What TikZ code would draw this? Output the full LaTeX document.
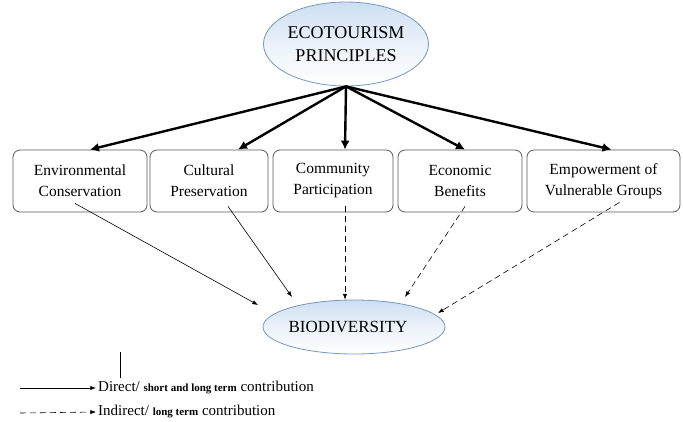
\documentclass[tikz,border=0pt]{standalone}
\usepackage{fontspec}
\setmainfont{Liberation Serif}
\usetikzlibrary{arrows.meta,shapes.geometric}

\definecolor{ovalline}{RGB}{120,150,190}
\definecolor{ovalfill}{RGB}{205,222,242}

\begin{document}
\begin{tikzpicture}[%
        x = 1pt, y = -1pt,
        > = Latex,
        oval/.style = {
            ellipse, draw = ovalline, thick,
            top color = ovalfill, bottom color = white, middle color = ovalfill!40,
            inner sep = 0pt, align = center
        },
        principle/.style = {
            draw = black!65, rounded corners = 7pt, thick,
            minimum height = 62pt, inner sep = 0pt,
            align = center, font = \rmfamily\fontsize{15.5}{21}\selectfont
        },
        mainarrow/.style = {->, line width = 2.4pt, >={Latex[length=9pt,width=9pt]}},
        direct/.style = {->, semithick},
        indirect/.style = {->, semithick, dash pattern = on 6pt off 4pt}
    ]

        \useasboundingbox (0, 0) rectangle (683, 421);

        % top and bottom ovals
        \node[oval, minimum width = 162pt, minimum height = 84pt,
              font = \rmfamily\fontsize{18}{23}\selectfont] (eco) at (346, 44)
            {ECOTOURISM\\PRINCIPLES};
        \node[oval, minimum width = 182pt, minimum height = 54pt,
              font = \rmfamily\fontsize{17}{20}\selectfont] (bio) at (354, 327)
            {\hspace*{-12pt}BIODIVERSITY};

        % the five principles
        \node[principle, minimum width = 134pt] (env)  at (80, 181)    {Environmental\\Conservation};
        \node[principle, minimum width = 118pt] (cult) at (209, 181)   {Cultural\\Preservation};
        \node[principle, minimum width = 120pt] (comm) at (333, 181)   {Community\\Participation};
        \node[principle, minimum width = 124pt] (econ) at (460, 181)   {Economic\\Benefits};
        \node[principle, minimum width = 153pt] (vuln) at (603.5, 181) {Empowerment of\\Vulnerable Groups};

        \begin{scope}[mainarrow]
            \draw (eco.south) to ([xshift = 10pt]env.north);
            \draw (eco.south) to ([xshift = 29pt]cult.north);
            \draw (eco.south) to ([xshift = 12pt]comm.north);
            \draw (eco.south) to ([xshift = 5pt]econ.north);
            \draw (eco.south) to ([xshift = 8pt]vuln.north);
        \end{scope}

        \draw[direct] ([shift = {(-5pt, 9pt)}]env.south) to (258, 305);
        \draw[direct] ([shift = {(19pt, 6pt)}]cult.south) to (292, 297);
        \draw[indirect] ([shift = {(12pt, 6pt)}]comm.south) to ([xshift = -9pt]bio.north);
        \draw[indirect] ([shift = {(5pt, 6pt)}]econ.south) to (405, 297);
        \draw[indirect] ([shift = {(16pt, 10pt)}]vuln.south) to (438, 313);

        % legend
        \draw[thick] (120, 352) to (120, 378);
        \node[anchor = west, inner sep = 0pt, font = \rmfamily\fontsize{15}{17}\selectfont] (dirtext) at (98, 388)
            {Direct/ {\fontsize{11}{12}\selectfont\bfseries short and long term} contribution};
        \node[anchor = west, inner sep = 0pt, font = \rmfamily\fontsize{15}{17}\selectfont] (indtext) at (98, 412)
            {Indirect/ {\fontsize{11}{12}\selectfont\bfseries long term} contribution};
        \coordinate (dirstart) at (20, 388);
        \coordinate (indstart) at (20, 413);
        \draw[direct] (dirstart) to ([xshift = -2pt]dirtext.west);
        \draw[indirect] (indstart) to ([xshift = -2pt]indtext.west);
\end{tikzpicture}
\end{document}
